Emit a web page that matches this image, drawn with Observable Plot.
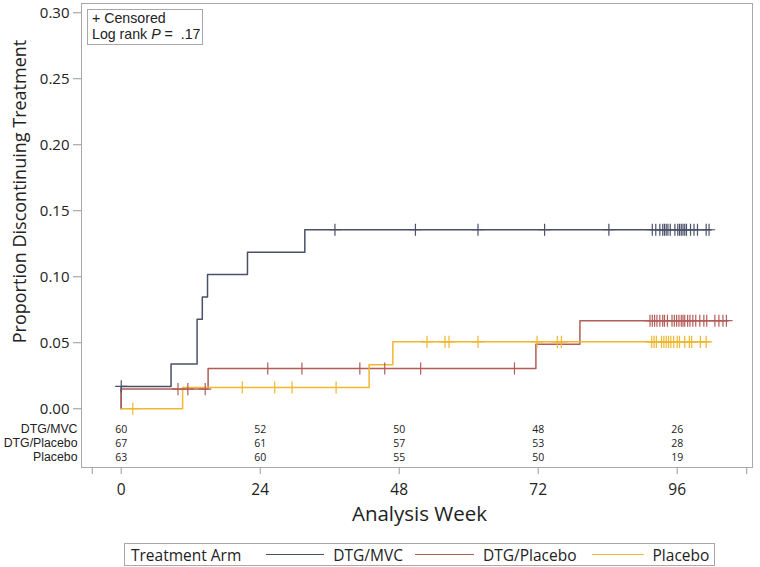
<!DOCTYPE html>
<html>
<head>
<meta charset="utf-8">
<script src="https://cdn.jsdelivr.net/npm/d3@7"></script>
<script src="https://cdn.jsdelivr.net/npm/@observablehq/plot@0.6"></script>
<style>
  html, body { margin: 0; padding: 0; background: #fff; }
  body { font-family: "Open Sans", sans-serif; color: #222; }
  #wrap { position: relative; width: 760px; height: 567px; overflow: hidden; }
  #inset {
    position: absolute; left: 87px; top: 9px; width: 116px; height: 36px;
    border: 1px solid #a8a8a8; background: #fff; box-sizing: border-box;
    font-family: "Liberation Sans", sans-serif; font-size: 14.2px; white-space: nowrap;
  }
  #inset div { position: absolute; left: 4px; line-height: 15.9px; }
  #legend {
    position: absolute; left: 124px; top: 543px; width: 589px; height: 21px;
    border: 1px solid #a8a8a8; display: flex; align-items: center;
    font-size: 15.5px; white-space: nowrap; box-sizing: content-box;
  }
  #legend .title { margin-left: 6px; margin-right: 25px; }
  #legend .sw { display: inline-block; height: 0; border-top: 1.5px solid; }
  #legend .lab { margin-left: 9px; }
</style>
</head>
<body>
<div id="wrap">
  <div id="chart"></div>
  <div id="inset"></div>
  <div id="legend"></div>
</div>
<script>
// ---- Data ----
const series = ["DTG/MVC", "DTG/Placebo", "Placebo"];
const colors = ["#4a5068", "#b25c58", "#f0b72f"];

// Kaplan-Meier cumulative failure steps (week, proportion)
const mvcStepWeek = [0, 0, 8.6, 13.1, 14.0, 14.9, 21.8, 31.7, 101.8];
const mvcStepProp = [0, 0.0169, 0.0339, 0.0678, 0.0847, 0.1017, 0.1186, 0.1356, 0.1356];
const dtgStepWeek = [0, 0, 15.0, 71.6, 79.2, 104.7];
const dtgStepProp = [0, 0.0149, 0.0305, 0.0488, 0.0667, 0.0667];
const plaStepWeek = [0, 10.6, 42.8, 46.9, 101.6];
const plaStepProp = [0, 0.0161, 0.0334, 0.0507, 0.0507];

// Censoring times (weeks)
const mvcCensorWeek = [0, 36.9, 50.8, 61.6, 73.1, 84.2, 91.7, 92.3, 93.0, 93.5, 93.8, 94.1, 94.4, 94.8,
  95.6, 96.1, 96.4, 96.7, 97.0, 97.3, 97.6, 98.3, 98.9, 99.5, 101.0, 101.5];
const dtgCensorWeek = [9.8, 11.5, 14.5, 25.3, 31.2, 41.2, 45.5, 51.7, 67.9, 91.3, 91.7, 92.1, 92.5, 93.0,
  93.5, 93.8, 94.3, 95.1, 95.5, 95.9, 96.3, 96.7, 97.0, 97.3, 97.8, 98.2, 98.7, 99.2, 99.9, 100.6, 101.1,
  102.5, 103.2, 103.9, 104.5];
const plaCensorWeek = [2.0, 20.9, 26.5, 29.5, 37.1, 52.8, 55.9, 56.6, 61.6, 71.8, 75.3, 76.0, 91.6, 92.0,
  92.4, 93.3, 93.7, 94.1, 94.5, 94.9, 95.4, 96.0, 96.4, 97.3, 98.1, 98.5, 100.0, 101.0];

// Number at risk
const riskWeek = [0, 24, 48, 72, 96];
const riskMVC = [60, 52, 50, 48, 26];
const riskDTG = [67, 61, 57, 53, 28];
const riskPla = [63, 60, 55, 50, 19];

// Axes
const xTicks = [0, 24, 48, 72, 96];
const xAxisEnds = [-5, 108];
const yTicks = [0, 0.05, 0.10, 0.15, 0.20, 0.25, 0.30];
const xDomain = [-6.86, 109.0];
const yDomain = [-0.0445, 0.307];

const yLabel = "Proportion Discontinuing Treatment";
const xLabel = "Analysis Week";
const legendTitle = "Treatment Arm";
const censorLabel = "+ Censored";
const logRankP = ".17";

// ---- Build tables ----
const steps = [[mvcStepWeek, mvcStepProp], [dtgStepWeek, dtgStepProp], [plaStepWeek, plaStepProp]];
const censors = [mvcCensorWeek, dtgCensorWeek, plaCensorWeek];
const risks = [riskMVC, riskDTG, riskPla];

const stepData = [];
steps.forEach(([w, p], k) => w.forEach((t, i) => stepData.push({arm: series[k], week: t, prop: p[i]})));

function valueAt(k, t) {
  const [w, p] = steps[k];
  let v = p[0];
  for (let i = 0; i < w.length; i++) if (w[i] <= t) v = p[i];
  return v;
}
const censorData = [];
censors.forEach((arr, k) => arr.forEach(t => censorData.push({arm: series[k], week: t, prop: valueAt(k, t)})));

const riskData = [];
risks.forEach((arr, k) => arr.forEach((n, i) => riskData.push({arm: series[k], row: k, week: riskWeek[i], n})));

const rowDy = [-35, -21, -7];

const marks = [
  Plot.frame({stroke: "#a8a8a8"}),
  Plot.axisY(yTicks, {tickFormat: d3.format(".2f"), tickSize: 8, tickPadding: 4, fontSize: 15, stroke: "#999", label: null}),
  Plot.axisX(xTicks, {tickSize: 7, tickPadding: 9, fontSize: 15.5, stroke: "#999", label: null}),
  Plot.axisX(xAxisEnds, {tickSize: 7, tickFormat: () => "", stroke: "#999", label: null}),
  Plot.line(stepData, {x: "week", y: "prop", z: "arm", stroke: "arm", curve: "step-after", strokeWidth: 1.5}),
  Plot.dot(censorData, {x: "week", y: "prop", stroke: "arm", symbol: "plus", r: 4, strokeWidth: 1.2}),
  Plot.text([yLabel], {text: d => d, frameAnchor: "top-left", rotate: -90, dx: -68, dy: 188, fontSize: 18, textAnchor: "middle"}),
  Plot.text([xLabel], {text: d => d, frameAnchor: "bottom", dx: 2.5, dy: 53, fontSize: 20.5})
];
series.forEach((s, k) => {
  marks.push(Plot.text(riskData.filter(d => d.row === k), {x: "week", text: "n", frameAnchor: "bottom", dy: rowDy[k], fontSize: 10.5}));
  marks.push(Plot.text([s], {text: d => d, frameAnchor: "bottom-left", dx: -4, dy: rowDy[k], textAnchor: "end",
    fontSize: 12.3, fontFamily: "Liberation Sans, sans-serif"}));
});

const chart = Plot.plot({
  width: 760,
  height: 540,
  marginLeft: 81,
  marginRight: 8,
  marginTop: 3,
  marginBottom: 73,
  style: {fontFamily: "Open Sans, sans-serif", color: "#222", background: "#fff"},
  x: {domain: xDomain},
  y: {domain: yDomain},
  color: {domain: series, range: colors},
  marks
});
document.getElementById("chart").appendChild(chart);

// Inset box
const inset = document.getElementById("inset");
inset.innerHTML = `<div style="top:1px">${censorLabel}</div><div style="top:17px">Log rank <i>P</i> =&nbsp;&nbsp;${logRankP}</div>`;

// Bottom legend
const legend = document.getElementById("legend");
const swW = [58, 59, 52];
const swGap = [0, 12, 15];
let html = `<span class="title">${legendTitle}</span>`;
series.forEach((s, k) => {
  html += `<span class="sw" style="border-color:${colors[k]};width:${swW[k]}px;margin-left:${swGap[k]}px"></span><span class="lab">${s}</span>`;
});
legend.innerHTML = html;
</script>
</body>
</html>
